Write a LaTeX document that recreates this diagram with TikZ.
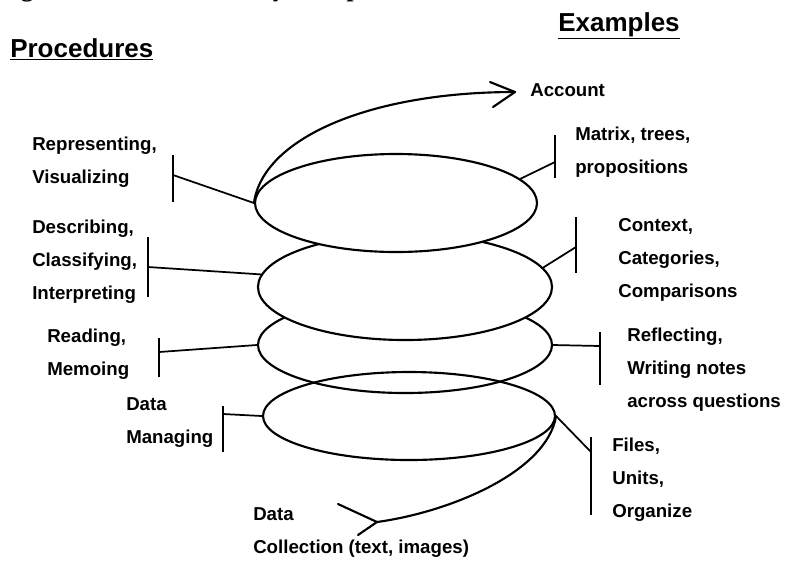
\documentclass[tikz,border=0pt]{standalone}
\usepackage{fontspec}
\setmainfont{Liberation Sans}
\newfontfamily\capfont{Liberation Serif}
\usetikzlibrary{shapes.geometric}

\tikzset{
	ring/.style={draw, ellipse, line width=1.6pt, inner sep=0pt},
	spiral/.style={line width=1.6pt, line cap=round, line join=round},
	barline/.style={line width=1.3pt},
	lbl/.style={anchor=west, inner sep=0pt, align=left, font=\bfseries\fontsize{14}{24.75}\selectfont},
	heading/.style={anchor=base west, inner sep=0pt, font=\bfseries\fontsize{19.5}{20}\selectfont},
}

\begin{document}
\begin{tikzpicture}[x=0.75pt, y=-0.75pt]
			%%%%% START %%%%%
			\useasboundingbox (0,0) rectangle (788,562);
			
			% caption line, cut off at the top edge
			\begin{scope}
				\clip (0,0) rectangle (788,562);
				\node[anchor=base west, inner sep=0pt, font=\capfont\bfseries\fontsize{19}{19}\selectfont] (caption) at (-2,-4) {Figure 8.1 The Data Analysis\hspace{0.8em}Spiral};
			\end{scope}
			
			\node[heading] (procedures) at (10,57) {\underline{Procedures}};
			\node[heading] (examples) at (558,31) {\underline{Examples}};
			
			% the loops, lowest first
			\node[ring, minimum width=219pt, minimum height=66pt] (e4) at (409,416) {};
			\node[ring, minimum width=220.5pt, minimum height=72pt] (e3) at (405,345) {};
			\node[ring, fill=white, minimum width=220.5pt, minimum height=79.5pt] (e2) at (405,287) {};
			\node[ring, fill=white, minimum width=211.5pt, minimum height=73.5pt] (e1) at (396,203) {};
			
			% spiral ends
			\coordinate (acctip) at (515,92);
			\draw[spiral] (e1.west) .. controls (263,138) and (370,92) .. (acctip);
			\draw[spiral] (490,82) -- (acctip) -- (493,107);
			
			\coordinate (coltip) at (377,522);
			\draw[spiral] (coltip) .. controls (450,512) and (547,472) .. (e4.east);
			\draw[spiral] (338,504) -- (coltip) -- (358,535);
			
			% procedures
			\node[lbl] (rep) at (32,162) {Representing,\\Visualizing};
			\node[lbl] (desc) at (32,262) {Describing,\\Classifying,\\Interpreting};
			\node[lbl] (read) at (47,354) {Reading,\\Memoing};
			\node[lbl] (manage) at (126,423) {Data\\Managing};
			\node[lbl] (collect) at (253,533) {Data\\Collection (text, images)};
			
			\coordinate (b1) at (173,175);
			\draw[barline] (173,155) -- (173,202);
			\draw[barline] (b1) -- (e1.west);
			
			\coordinate (b2) at (148,267);
			\draw[barline] (148,237) -- (148,297);
			\draw[barline] (b2) -- (e2.175);
			
			\coordinate (b3) at (159,352);
			\draw[barline] (159,338) -- (159,377);
			\draw[barline] (b3) -- (e3.west);
			
			\coordinate (b4) at (223,414);
			\draw[barline] (223,406) -- (223,452);
			\draw[barline] (b4) -- (e4.west);
			
			% examples
			\node[lbl] (account) at (530,90) {Account};
			\node[lbl] (matrix) at (575,152) {Matrix, trees,\\propositions};
			\node[lbl] (context) at (618,260) {Context,\\Categories,\\Comparisons};
			\node[lbl] (reflect) at (627,370) {Reflecting,\\Writing notes\\across questions};
			\node[lbl] (files) at (612,480) {Files,\\Units,\\Organize};
			
			\coordinate (b5) at (555,162);
			\draw[barline] (555,135) -- (555,178);
			\draw[barline] (b5) -- (e1.11);
			
			\coordinate (b6) at (576,247);
			\draw[barline] (576,217) -- (576,273);
			\draw[barline] (b6) -- (e2.8);
			
			\coordinate (b7) at (600,346);
			\draw[barline] (600,332) -- (600,385);
			\draw[barline] (b7) -- (e3.east);
			
			\coordinate (b8) at (591,452);
			\draw[barline] (591,437) -- (591,515);
			\draw[barline] (b8) -- (e4.east);
			
			%%%%% END %%%%%
\end{tikzpicture}
\end{document}
